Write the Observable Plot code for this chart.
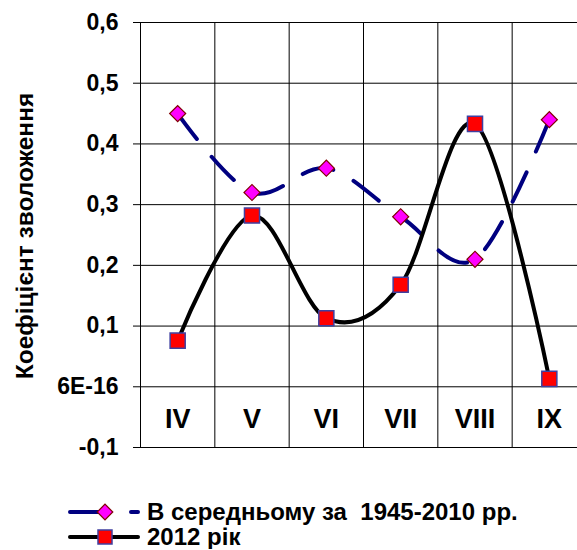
<!DOCTYPE html>
<html><head><meta charset="utf-8">
<script src="https://cdn.jsdelivr.net/npm/d3@7"></script>
<script src="https://cdn.jsdelivr.net/npm/@observablehq/plot@0.6"></script>
<style>
body{margin:0;background:#fff;font-family:Arial,"Liberation Sans",sans-serif;overflow:hidden;}
#legend{padding-left:68px;padding-top:29px;}
.row{display:flex;align-items:center;height:25px;}
.row span{font-weight:bold;font-size:24px;margin-left:7px;white-space:pre;color:#000;line-height:24px;}
</style></head><body>
<div id="chart"></div>
<div id="legend"></div>
<script>
const months = ["IV","V","VI","VII","VIII","IX"];
const avgValues = [0.45,0.32,0.36,0.28,0.21,0.44];
const values2012 = [0.076,0.282,0.113,0.168,0.433,0.013];
const yTicks = [-0.1,0,0.1,0.2,0.3,0.4,0.5,0.6];
const yTickLabels = ["-0,1","6E-16","0,1","0,2","0,3","0,4","0,5","0,6"];
const seriesNames = ["В середньому за  1945-2010 рр.","2012 рік"];
const yLabel = "Коефіцієнт зволоження";

const idx = months.map((m,i)=>i);
const avgData = idx.map(i=>({i, v: avgValues[i]}));
const data2012 = idx.map(i=>({i, v: values2012[i]}));
const bounds = d3.range(months.length+1).map(i=>i-0.5);
const labelY = (yTicks[0] + yTicks[1]) / 2;

const chart = Plot.plot({
  width: 577, height: 470,
  marginLeft: 140, marginRight: -9, marginTop: 22, marginBottom: 23,
  style: {fontFamily: 'Arial, "Liberation Sans", sans-serif', fontSize: "23px", fontWeight: "bold", background: "#fff", color: "#000"},
  x: {type: "linear", domain: [-0.5, months.length - 0.5]},
  y: {domain: [yTicks[0], yTicks[yTicks.length-1]]},
  marks: [
    Plot.ruleY(yTicks, {stroke: "#000", strokeWidth: 1}),
    Plot.ruleX(bounds, {stroke: "#000", strokeWidth: 1}),
    Plot.axisY(yTicks, {tickFormat: d => yTickLabels[yTicks.indexOf(d)], tickSize: 7, tickPadding: 15, label: null, fontSize: 23, fontWeight: "bold", stroke: "#000", strokeWidth: 1}),
    Plot.axisX([], {label: null}),
    Plot.text(months, {x: (d,i) => i, y: () => labelY, text: d => d, fontSize: 27, fontWeight: "bold", fill: "#000", dy: 2}),
    Plot.line(avgData, {x: "i", y: "v", curve: "cardinal", stroke: "#000080", strokeWidth: 4, strokeDasharray: "32,23", strokeLinecap: "round"}),
    Plot.dot(avgData, {x: "i", y: "v", symbol: "square", r: 6.4, rotate: 45, fill: "#ff00ff", stroke: "#800000", strokeWidth: 1.2}),
    Plot.line(data2012, {x: "i", y: "v", curve: "cardinal", stroke: "#000", strokeWidth: 4}),
    Plot.dot(data2012, {x: "i", y: "v", symbol: "square", r: 8.5, fill: "#ff0000", stroke: "#3f3fa0", strokeWidth: 1.5})
  ]
});

d3.select(chart).append("text")
  .attr("transform", "translate(24,236) rotate(-90)")
  .attr("text-anchor", "middle")
  .attr("dominant-baseline", "central")
  .attr("font-size", 24.5)
  .attr("font-weight", "bold")
  .attr("fill", "#000")
  .text(yLabel);

document.getElementById("chart").appendChild(chart);

const legend = d3.select("#legend");
const r1 = legend.append("div").attr("class", "row");
const s1 = r1.append("svg").attr("width", 72).attr("height", 20);
s1.append("line").attr("x1", 2).attr("x2", 70).attr("y1", 10).attr("y2", 10)
  .attr("stroke", "#000080").attr("stroke-width", 4).attr("stroke-linecap", "round").attr("stroke-dasharray", "36 25");
s1.append("rect").attr("x", -5.5).attr("y", -5.5).attr("width", 11).attr("height", 11)
  .attr("transform", "translate(37,10) rotate(45)").attr("fill", "#ff00ff").attr("stroke", "#800000").attr("stroke-width", 1.2);
r1.append("span").text(seriesNames[0]);

const r2 = legend.append("div").attr("class", "row");
const s2 = r2.append("svg").attr("width", 72).attr("height", 20);
s2.append("line").attr("x1", 2).attr("x2", 70).attr("y1", 10).attr("y2", 10)
  .attr("stroke", "#000").attr("stroke-width", 4).attr("stroke-linecap", "round");
s2.append("rect").attr("x", 30).attr("y", 3).attr("width", 14).attr("height", 14)
  .attr("fill", "#ff0000").attr("stroke", "#3f3fa0").attr("stroke-width", 1.5);
r2.append("span").text(seriesNames[1]);
</script>
</body></html>
